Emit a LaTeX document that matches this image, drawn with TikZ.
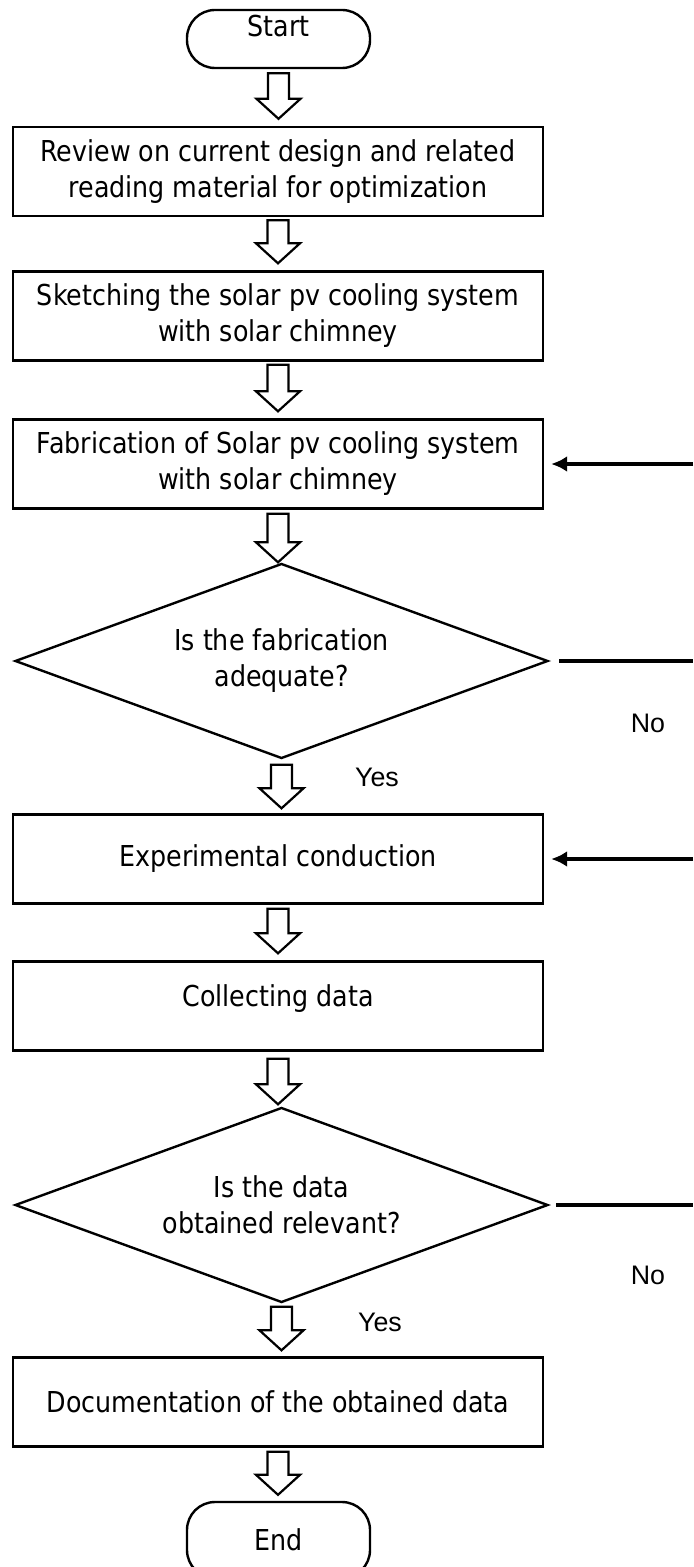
\documentclass[tikz,border=0pt]{standalone}
\usepackage{fontspec}
\setmainfont{DejaVu Sans}[FakeStretch=0.88]
\newfontfamily\arialf{Liberation Sans}
\usetikzlibrary{shapes.geometric,arrows.meta,calc}
\newcommand\hollowconn[4]{%
  \draw[hollowarr] let \p1=(#1.south), \p2=(#2.north) in
    (\x1-5.25pt,\y1-#3) -- (\x1+5.25pt,\y1-#3) -- (\x1+5.25pt,\y2+#4+10pt)
    -- (\x1+11pt,\y2+#4+10pt) -- (\x1,\y2+#4) -- (\x1-11pt,\y2+#4+10pt)
    -- (\x1-5.25pt,\y2+#4+10pt) -- cycle;}
\begin{document}
\begin{tikzpicture}[x=0.5pt,y=-0.5pt,
  mainfont/.style={font=\fontsize{14.4}{18}\selectfont},
  proc/.style={draw, line width=1.2pt, minimum width=265pt, minimum height=44.5pt,
    inner sep=0pt, align=center, mainfont},
  term/.style={draw, line width=1.2pt, rounded corners=14pt, minimum width=91.5pt,
    inner sep=0pt, mainfont},
  decision/.style={diamond, draw, line width=1.2pt, minimum width=266.5pt,
    minimum height=97.5pt, aspect=2.73, inner sep=0pt, align=center, mainfont},
  yn/.style={font=\arialf\fontsize{13.4}{15}\selectfont, inner sep=0pt},
  hollowarr/.style={draw, line width=1.1pt, line join=miter, fill=white},
  fb/.style={line width=1.6pt},
  fbarrow/.style={fb, -{Latex[length=8pt,width=8pt]}}
]
\useasboundingbox (0,0) rectangle (693,1567);

\node[term, minimum height=29pt, text height=13.2pt, text depth=15.8pt] (start) at (278.5,39) {Start};
\node[proc] (b1) at (278,171.5) {Review on current design and related\\reading material for optimization};
\node[proc] (b2) at (278,316) {Sketching the solar pv cooling system\\with solar chimney};
\node[proc] (b3) at (278,464) {Fabrication of Solar pv cooling system\\with solar chimney};
\node[decision] (d1) at (281.5,661) {Is the fabrication\\adequate?};
\node[proc] (b4) at (278,859) {Experimental conduction};
\node[proc, text height=10.8pt, text depth=10.4pt] (b5) at (278,1006) {Collecting data};
\node[decision] (d2) at (281.5,1205) {Is the data\\obtained relevant?};
\node[proc] (b6) at (278,1402) {Documentation of the obtained data};
\node[term, minimum height=38pt, text height=24.2pt, text depth=13.8pt] (end) at (278.5,1540) {End};

\node[yn] (no1) at (648,723) {No};
\node[yn] (yes1) at (377,777) {Yes};
\node[yn] (no2) at (648,1275) {No};
\node[yn] (yes2) at (380,1322) {Yes};

\hollowconn{start}{b1}{2pt}{3.5pt}
\hollowconn{b1}{b2}{1.5pt}{3.5pt}
\hollowconn{b2}{b3}{1.5pt}{3.5pt}
\hollowconn{b3}{d1}{2pt}{0pt}
\hollowconn{d1}{b4}{2.5pt}{2.5pt}
\hollowconn{b4}{b5}{2pt}{3.5pt}
\hollowconn{b5}{d2}{3.5pt}{1pt}
\hollowconn{d2}{b6}{1.5pt}{3pt}
\hollowconn{b6}{end}{2pt}{3pt}

\coordinate (r1) at (693,464);
\coordinate (r2) at (693,661);
\coordinate (r3) at (693,859);
\coordinate (r4) at (693,1205);
\draw[fbarrow, shorten >=3.5pt] (r1) -- (b3.east);
\draw[fb, shorten <=5pt] (d1.east) -- (r2);
\draw[fbarrow, shorten >=3.5pt] (r3) -- (b4.east);
\draw[fb, shorten <=3.5pt] (d2.east) -- (r4);
\end{tikzpicture}
\end{document}
